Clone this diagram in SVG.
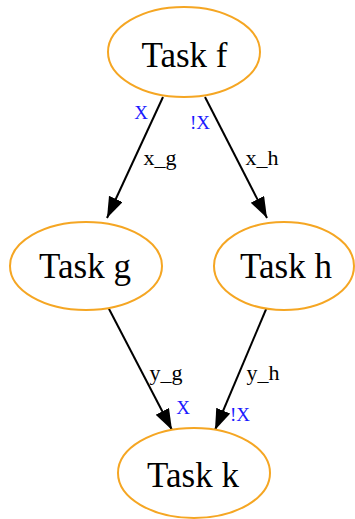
<svg xmlns="http://www.w3.org/2000/svg" width="355" height="519" viewBox="0 0 355 519">
<defs>
<style>
.node ellipse{fill:#fff;stroke:#f5a623;stroke-width:2}
.node text{font-family:"Liberation Serif","Times New Roman",serif;font-size:35px;fill:#000;text-anchor:middle}
.edge line{stroke:#000;stroke-width:2}
.lbl{font-family:"Liberation Serif","Times New Roman",serif;font-size:22px;fill:#000}
.cond{font-family:"Liberation Serif","Times New Roman",serif;font-size:19px;fill:#1a1aff}
</style>
<marker id="arr" markerUnits="userSpaceOnUse" markerWidth="22" markerHeight="16" refX="21" refY="7.5" orient="auto" viewBox="0 0 22 16">
<path d="M0,0 L21,7.5 L0,15 z" fill="#000"/>
</marker>
</defs>
<rect width="355" height="519" fill="#fff"/>
<g id="connectors" class="edge">
<line x1="163" y1="97" x2="107" y2="218" marker-end="url(#arr)"/>
<line x1="205" y1="97" x2="267" y2="218" marker-end="url(#arr)"/>
<line x1="108" y1="307" x2="172" y2="430" marker-end="url(#arr)"/>
<line x1="267" y1="307" x2="215" y2="430" marker-end="url(#arr)"/>
<text class="cond" x="141" y="119" text-anchor="middle">X</text>
<text class="cond" x="200" y="129" text-anchor="middle">!X</text>
<text class="lbl" x="160" y="165" text-anchor="middle">x_g</text>
<text class="lbl" x="262" y="165" text-anchor="middle">x_h</text>
<text class="lbl" x="166" y="380" text-anchor="middle">y_g</text>
<text class="lbl" x="263" y="380" text-anchor="middle">y_h</text>
<text class="cond" x="183" y="414" text-anchor="middle">X</text>
<text class="cond" x="240" y="421" text-anchor="middle">!X</text>
</g>
<g id="task_f" class="node"><ellipse cx="184" cy="52" rx="76" ry="45"/><text x="184.5" y="67">Task f</text></g>
<g id="task_g" class="node"><ellipse cx="86" cy="266" rx="76" ry="44"/><text x="85" y="278">Task g</text></g>
<g id="task_h" class="node"><ellipse cx="284" cy="266" rx="70" ry="44"/><text x="286" y="278">Task h</text></g>
<g id="task_k" class="node"><ellipse cx="194" cy="473" rx="76" ry="45"/><text x="193" y="487">Task k</text></g>
</svg>
